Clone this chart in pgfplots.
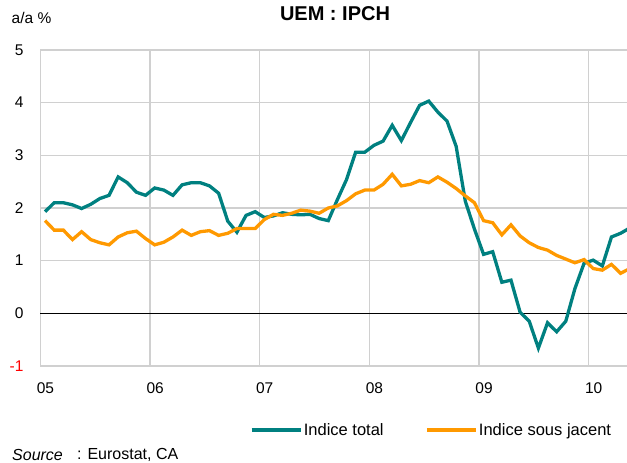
\documentclass[border=0pt]{standalone}
\usepackage{pgfplots}
\pgfplotsset{compat=1.18}
\usepackage{fontspec}
\setmainfont{Liberation Sans}
\definecolor{teal1}{RGB}{0,128,128}
\definecolor{orange1}{RGB}{255,153,0}
\definecolor{gridc}{RGB}{208,208,208}
\begin{document}
\begin{tikzpicture}[x=1pt,y=1pt]
\useasboundingbox (0,0) rectangle (627,463);
\begin{axis}[
  at={(40.5pt,97pt)}, anchor=south west,
  scale only axis, width=586.5pt, height=316pt,
  xmin=0, xmax=64.2, ymin=-1, ymax=5,
  axis line style={draw=none},
  tick style={draw=none},
  xtick={0,12,24,36,48,60},
  xticklabels={05,06,07,08,09,10},
  xticklabel style={xshift=5pt, yshift=-13pt},
  ytick={-1,0,1,2,3,4,5},
  yticklabels={\textcolor{red}{-1},0,1,2,3,4,5},
  yticklabel style={anchor=east, xshift=-13.5pt},
  /pgf/number format/assume math mode=true,
  tick label style={font=\fontsize{15.5}{17}\selectfont},
  grid=major,
  grid style={gridc, line width=1.3pt},
  extra y ticks={0},
  extra y tick labels={},
  extra y tick style={grid style={black, line width=0.9pt}},
  clip=true,
  legend columns=2,
  legend style={at={(0.357,-0.203)}, anchor=west, draw=none, fill=none,
    inner sep=0pt, font=\fontsize{16.5}{18}\selectfont,
    nodes={inner sep=1.5pt},
    /tikz/every even column/.append style={column sep=40pt}},
  legend image code/.code={\draw[#1, line width=3.3pt] (0pt,0pt) -- (49pt,0pt);},
]
\addplot[teal1, line width=3.3pt] coordinates {
(0.5,1.93)(1.5,2.10)(2.5,2.10)(3.5,2.06)(4.5,1.99)(5.5,2.07)(6.5,2.18)(7.5,2.24)(8.5,2.59)(9.5,2.48)(10.5,2.30)(11.5,2.24)
(12.5,2.38)(13.5,2.34)(14.5,2.24)(15.5,2.44)(16.5,2.48)(17.5,2.48)(18.5,2.42)(19.5,2.28)(20.5,1.75)(21.5,1.54)(22.5,1.86)(23.5,1.93)
(24.5,1.82)(25.5,1.85)(26.5,1.91)(27.5,1.88)(28.5,1.87)(29.5,1.88)(30.5,1.80)(31.5,1.76)(32.5,2.16)(33.5,2.54)(34.5,3.06)(35.5,3.06)
(36.5,3.19)(37.5,3.27)(38.5,3.57)(39.5,3.28)(40.5,3.62)(41.5,3.95)(42.5,4.03)(43.5,3.82)(44.5,3.65)(45.5,3.17)(46.5,2.13)(47.5,1.60)
(48.5,1.12)(49.5,1.17)(50.5,0.59)(51.5,0.63)(52.5,0.02)(53.5,-0.15)(54.5,-0.66)(55.5,-0.18)(56.5,-0.35)(57.5,-0.15)(58.5,0.47)(59.5,0.95)
(60.5,1.01)(61.5,0.90)(62.5,1.45)(63.5,1.52)(64.5,1.62)
};
\addlegendentry{Indice total}
\addplot[orange1, line width=3.3pt] coordinates {
(0.5,1.76)(1.5,1.58)(2.5,1.58)(3.5,1.40)(4.5,1.55)(5.5,1.40)(6.5,1.34)(7.5,1.30)(8.5,1.45)(9.5,1.53)(10.5,1.56)(11.5,1.42)
(12.5,1.30)(13.5,1.35)(14.5,1.45)(15.5,1.58)(16.5,1.48)(17.5,1.55)(18.5,1.57)(19.5,1.48)(20.5,1.52)(21.5,1.61)(22.5,1.61)(23.5,1.61)
(24.5,1.78)(25.5,1.88)(26.5,1.86)(27.5,1.90)(28.5,1.96)(29.5,1.94)(30.5,1.90)(31.5,2.00)(32.5,2.04)(33.5,2.14)(34.5,2.27)(35.5,2.34)
(36.5,2.34)(37.5,2.45)(38.5,2.64)(39.5,2.42)(40.5,2.45)(41.5,2.52)(42.5,2.48)(43.5,2.59)(44.5,2.49)(45.5,2.37)(46.5,2.23)(47.5,2.10)
(48.5,1.76)(49.5,1.72)(50.5,1.49)(51.5,1.68)(52.5,1.47)(53.5,1.34)(54.5,1.25)(55.5,1.20)(56.5,1.10)(57.5,1.03)(58.5,0.96)(59.5,1.02)
(60.5,0.85)(61.5,0.82)(62.5,0.93)(63.5,0.76)(64.5,0.85)
};
\addlegendentry{Indice sous jacent}
\end{axis}
\node[anchor=center, font=\fontsize{20}{22}\selectfont\bfseries] at (335,449.5) {UEM : IPCH};
\node[anchor=west, inner sep=0pt, font=\fontsize{15.5}{17}\selectfont] at (11.5,444.7) {a/a \%};
\node[anchor=west, inner sep=0pt, font=\fontsize{16}{18}\selectfont\itshape] at (12,8) {Source};
\node[anchor=west, inner sep=0pt, font=\fontsize{16}{18}\selectfont] at (77,8) {: Eurostat, CA};
\end{tikzpicture}
\end{document}
